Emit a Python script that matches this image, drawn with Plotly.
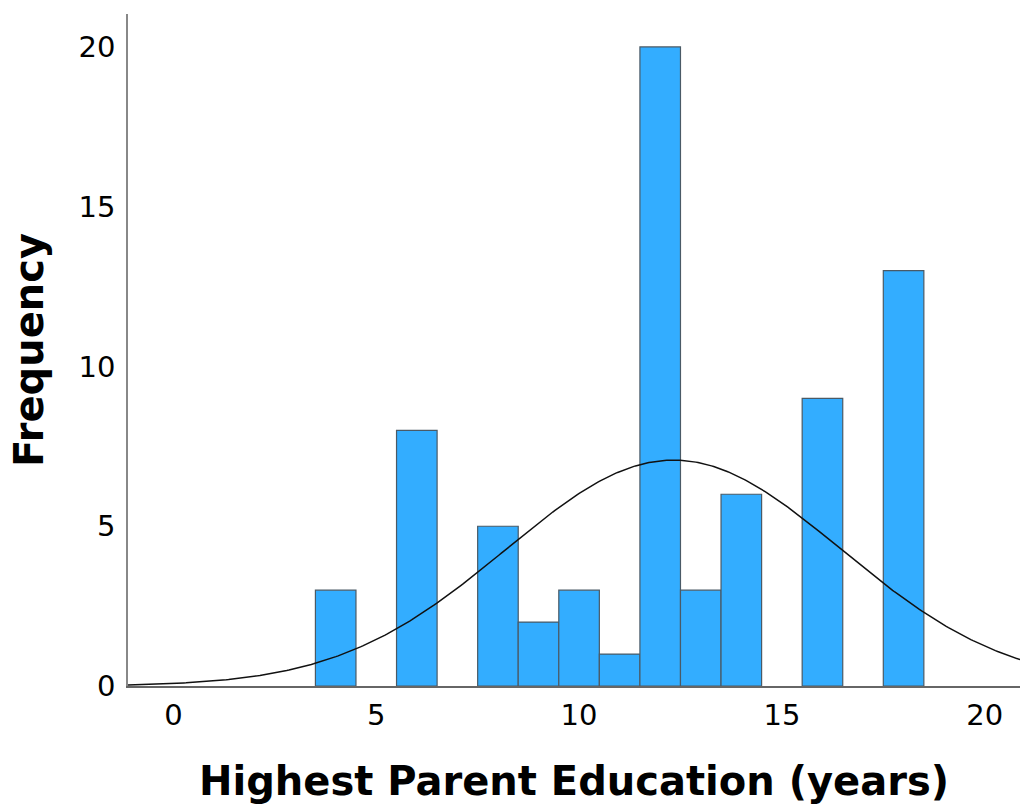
import numpy as np
import plotly.graph_objects as go

# Histogram counts for each year value (bin width 1, centred on the integer)
years = [4, 6, 8, 9, 10, 11, 12, 13, 14, 16, 18]
counts = [3, 8, 5, 2, 3, 1, 20, 3, 6, 9, 13]

x_ticks = [0, 5, 10, 15, 20]
y_ticks = [0, 5, 10, 15, 20]

# Fitted normal curve, scaled to the counts
yrs = np.array(years, dtype=float)
cnt = np.array(counts, dtype=float)
n = cnt.sum()
mean = (yrs * cnt).sum() / n
sd = np.sqrt(((yrs - mean) ** 2 * cnt).sum() / (n - 1))
bin_width = 1.0

x_range = [-1.12, 20.87]
y_range = [0, 21.03]

cx = np.linspace(x_range[0], x_range[1], 400)
cy = n * bin_width / (sd * np.sqrt(2 * np.pi)) * np.exp(-0.5 * ((cx - mean) / sd) ** 2)

fig = go.Figure()
fig.add_trace(go.Bar(
    x=years, y=counts, width=bin_width,
    marker=dict(color="#33adff", line=dict(color="#4a5a66", width=1.2)),
    hoverinfo="x+y",
))
fig.add_trace(go.Scatter(
    x=cx, y=cy, mode="lines",
    line=dict(color="#111111", width=1.5),
    hoverinfo="skip",
))

font_family = "DejaVu Sans"
fig.update_layout(
    width=1020, height=810,
    margin=dict(l=128, r=0, t=14, b=124),
    paper_bgcolor="white", plot_bgcolor="white",
    showlegend=False,
    font=dict(family=font_family, color="black"),
)
fig.update_xaxes(
    range=x_range, tickvals=x_ticks, ticks="",
    showgrid=False, zeroline=False,
    showline=True, linecolor="#666666", linewidth=1.5,
    tickfont=dict(size=29, family=font_family),
    ticklabelstandoff=2,
    title=dict(text="<b>Highest Parent Education (years)</b>",
               font=dict(size=40, family=font_family), standoff=36),
)
fig.update_yaxes(
    range=y_range, tickvals=y_ticks, ticks="",
    showgrid=False, zeroline=False,
    showline=True, linecolor="#888888", linewidth=1.5,
    tickfont=dict(size=29, family=font_family),
    ticklabelstandoff=5,
    title=dict(text="<b>Frequency</b>",
               font=dict(size=40, family=font_family), standoff=23),
)

fig.write_html("out.html")
